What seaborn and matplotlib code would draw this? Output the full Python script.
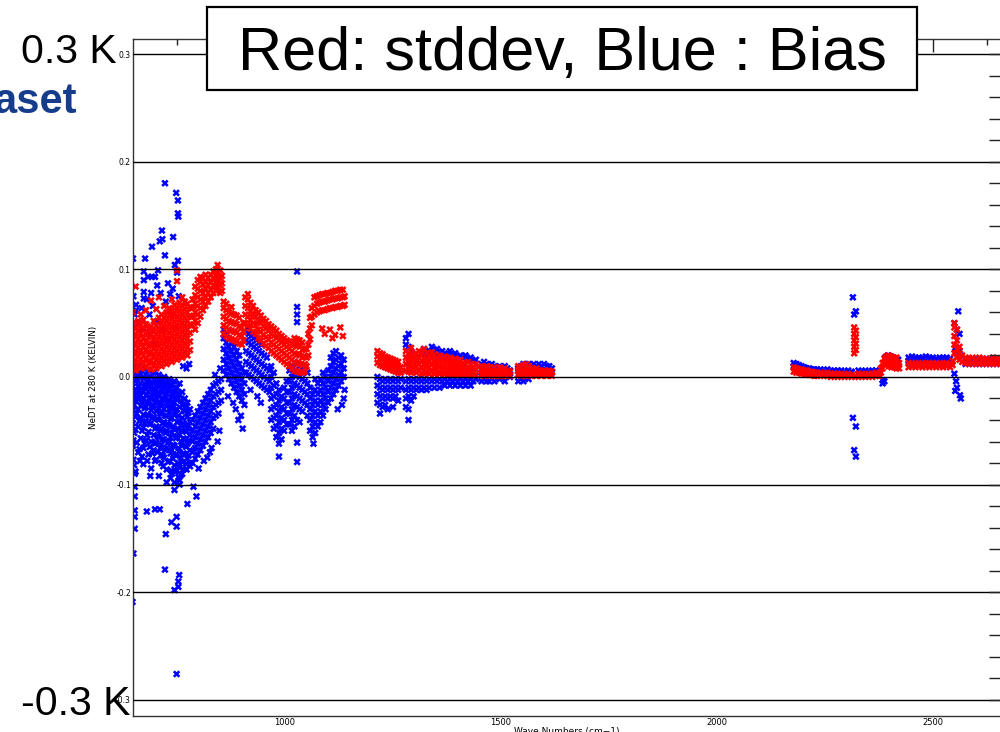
import matplotlib
matplotlib.use("Agg")
import matplotlib.pyplot as plt
from matplotlib.patches import Rectangle
from matplotlib.ticker import MultipleLocator
import pandas as pd
import seaborn as sns

# ---------------------------------------------------------------------------
# Channel values, grouped by spectral segment.
# Each entry: (wave number in cm-1, [NeDT values in K at that wave number])
# ---------------------------------------------------------------------------

# Red series: standard deviation
stddev_650_785 = [
    (648, [0.010, 0.018, 0.026, 0.034, 0.042, 0.050, 0.060]),
    (654, [0.006, 0.014, 0.022, 0.030, 0.038, 0.046, 0.084]),
    (660, [0.011, 0.019, 0.027, 0.035, 0.043, 0.052]),
    (666, [0.008, 0.016, 0.024, 0.032, 0.040, 0.048, 0.058]),
    (672, [0.012, 0.020, 0.028, 0.036, 0.044, 0.053]),
    (678, [0.009, 0.017, 0.025, 0.033, 0.041, 0.049, 0.062]),
    (684, [0.013, 0.021, 0.029, 0.037, 0.045]),
    (690, [0.007, 0.015, 0.023, 0.031, 0.039, 0.047, 0.071]),
    (696, [0.011, 0.019, 0.027, 0.035, 0.043, 0.052]),
    (702, [0.008, 0.016, 0.024, 0.032, 0.040, 0.048, 0.063]),
    (708, [0.013, 0.021, 0.029, 0.037, 0.045, 0.055, 0.074]),
    (714, [0.010, 0.018, 0.026, 0.034, 0.042, 0.050, 0.058]),
    (720, [0.015, 0.023, 0.031, 0.039, 0.047, 0.055, 0.066]),
    (726, [0.012, 0.020, 0.028, 0.036, 0.044, 0.052, 0.060]),
    (732, [0.017, 0.025, 0.033, 0.041, 0.049, 0.057, 0.064]),
    (738, [0.014, 0.022, 0.030, 0.038, 0.046, 0.054, 0.062, 0.072]),
    (744, [0.019, 0.027, 0.035, 0.043, 0.051, 0.059, 0.067]),
    (750, [0.016, 0.024, 0.032, 0.040, 0.048, 0.056, 0.064, 0.089, 0.099]),
    (756, [0.021, 0.029, 0.037, 0.045, 0.053, 0.061, 0.069]),
    (762, [0.018, 0.026, 0.034, 0.042, 0.050, 0.058, 0.066, 0.074]),
    (768, [0.023, 0.031, 0.039, 0.047, 0.055, 0.063, 0.070]),
    (774, [0.020, 0.028, 0.036, 0.044, 0.052, 0.060, 0.068]),
    (780, [0.025, 0.033, 0.041, 0.049, 0.057, 0.065]),
]
stddev_785_856 = [
    (786, [0.048, 0.056, 0.064, 0.072]),
    (792, [0.044, 0.052, 0.060, 0.068, 0.076, 0.084]),
    (798, [0.050, 0.058, 0.066, 0.074, 0.082, 0.090]),
    (804, [0.056, 0.064, 0.072, 0.080, 0.088, 0.093]),
    (810, [0.062, 0.070, 0.078, 0.086, 0.092]),
    (816, [0.066, 0.074, 0.082, 0.089, 0.095]),
    (822, [0.070, 0.078, 0.085, 0.092]),
    (828, [0.074, 0.081, 0.088, 0.095]),
    (834, [0.078, 0.085, 0.092, 0.098]),
    (840, [0.080, 0.087, 0.094, 0.100]),
    (844, [0.083, 0.090, 0.097, 0.104]),
    (850, [0.078, 0.085, 0.092, 0.099]),
    (854, [0.080, 0.087, 0.094]),
]
stddev_856_1140 = [
    (858, [0.040, 0.048, 0.056, 0.064, 0.070]),
    (864, [0.038, 0.046, 0.054, 0.062, 0.068]),
    (870, [0.036, 0.044, 0.052, 0.060]),
    (876, [0.035, 0.043, 0.051, 0.059, 0.065]),
    (882, [0.034, 0.042, 0.050, 0.058]),
    (888, [0.033, 0.041, 0.049, 0.057]),
    (894, [0.031, 0.039, 0.047, 0.055]),
    (900, [0.030, 0.038, 0.046]),
    (904, [0.034, 0.042, 0.050]),
    (908, [0.050, 0.058, 0.066, 0.074]),
    (914, [0.048, 0.056, 0.064, 0.072, 0.077]),
    (920, [0.045, 0.053, 0.061, 0.069]),
    (926, [0.042, 0.050, 0.058, 0.066]),
    (932, [0.040, 0.048, 0.056, 0.062]),
    (938, [0.036, 0.044, 0.052, 0.060]),
    (944, [0.034, 0.042, 0.050, 0.057]),
    (950, [0.031, 0.039, 0.047, 0.054]),
    (956, [0.029, 0.037, 0.045, 0.052]),
    (962, [0.027, 0.035, 0.043, 0.049]),
    (968, [0.024, 0.032, 0.040, 0.047]),
    (974, [0.022, 0.030, 0.038, 0.045]),
    (980, [0.020, 0.028, 0.036, 0.043]),
    (986, [0.018, 0.026, 0.034, 0.040]),
    (992, [0.016, 0.024, 0.032, 0.038]),
    (998, [0.014, 0.022, 0.030, 0.036]),
    (1004, [0.012, 0.020, 0.028, 0.034]),
    (1010, [0.010, 0.018, 0.026, 0.033]),
    (1016, [0.008, 0.016, 0.024, 0.031]),
    (1022, [0.006, 0.014, 0.022, 0.030, 0.036]),
    (1028, [0.005, 0.013, 0.021, 0.029, 0.035]),
    (1034, [0.004, 0.012, 0.020, 0.028, 0.034]),
    (1040, [0.004, 0.011, 0.018, 0.025, 0.032]),
    (1046, [0.005, 0.012, 0.019, 0.026]),
    (1050, [0.010, 0.018, 0.026]),
    (1054, [0.020, 0.030, 0.040]),
    (1058, [0.035, 0.045, 0.055]),
    (1062, [0.048, 0.056, 0.064]),
    (1068, [0.058, 0.066, 0.074]),
    (1074, [0.060, 0.068, 0.075]),
    (1080, [0.061, 0.069, 0.076]),
    (1086, [0.045, 0.062, 0.070, 0.077]),
    (1092, [0.040, 0.062, 0.070, 0.077]),
    (1098, [0.063, 0.071, 0.078]),
    (1104, [0.044, 0.064, 0.072, 0.078]),
    (1110, [0.036, 0.064, 0.072, 0.079]),
    (1116, [0.039, 0.065, 0.073, 0.080]),
    (1122, [0.065, 0.073, 0.080]),
    (1128, [0.046, 0.066, 0.074, 0.081]),
    (1134, [0.038, 0.066, 0.074, 0.081]),
    (1138, [0.067, 0.075]),
]
stddev_1210_1620 = [
    (1214, [0.013, 0.019, 0.024]), (1220, [0.011, 0.017, 0.022]),
    (1226, [0.010, 0.016, 0.021]), (1232, [0.009, 0.014, 0.019]),
    (1238, [0.008, 0.013, 0.018]), (1244, [0.007, 0.012, 0.017]),
    (1250, [0.006, 0.011, 0.016]), (1256, [0.005, 0.010, 0.015]),
    (1262, [0.004, 0.009, 0.014]), (1268, [0.004, 0.009]),
    (1280, [0.006, 0.012, 0.018, 0.024]), (1286, [0.005, 0.011, 0.017, 0.022]),
    (1292, [0.004, 0.010, 0.016, 0.021, 0.027]), (1298, [0.005, 0.011, 0.017]),
    (1304, [0.004, 0.010, 0.016, 0.022]), (1310, [0.006, 0.012, 0.018, 0.024]),
    (1316, [0.003, 0.009, 0.015, 0.021]), (1322, [0.005, 0.011, 0.017, 0.026]),
    (1328, [0.004, 0.010, 0.016, 0.022]), (1334, [0.003, 0.009, 0.015, 0.020]),
    (1340, [0.005, 0.011, 0.017, 0.023]), (1346, [0.003, 0.009, 0.015, 0.021]),
    (1352, [0.004, 0.010, 0.016]), (1358, [0.003, 0.009, 0.015, 0.020]),
    (1364, [0.004, 0.010, 0.016]), (1370, [0.003, 0.009, 0.015, 0.019]),
    (1376, [0.003, 0.008, 0.014]), (1382, [0.004, 0.009, 0.015, 0.018]),
    (1388, [0.003, 0.008, 0.013]), (1394, [0.002, 0.007, 0.012, 0.017]),
    (1400, [0.003, 0.008, 0.013]), (1406, [0.002, 0.007, 0.012, 0.016]),
    (1412, [0.003, 0.008, 0.013]), (1418, [0.002, 0.007, 0.012]),
    (1424, [0.003, 0.008, 0.014]), (1430, [0.002, 0.007, 0.012]),
    (1436, [0.003, 0.008]), (1442, [0.002, 0.007, 0.012]),
    (1455, [0.002, 0.006, 0.010]), (1461, [0.001, 0.005, 0.009]),
    (1467, [0.002, 0.006, 0.010]), (1473, [0.001, 0.005, 0.009]),
    (1479, [0.002, 0.006]), (1485, [0.001, 0.005, 0.009]),
    (1491, [0.001, 0.005]), (1497, [0.002, 0.006, 0.009]),
    (1503, [0.001, 0.005]), (1509, [0.001, 0.005, 0.008]),
    (1515, [0.002, 0.006]), (1521, [0.001, 0.005]),
    (1540, [0.002, 0.006, 0.010]), (1546, [0.001, 0.005, 0.009]),
    (1552, [0.002, 0.006, 0.011]), (1558, [0.001, 0.005, 0.012]),
    (1564, [0.002, 0.006, 0.010]), (1570, [0.001, 0.005, 0.008]),
    (1576, [0.002, 0.006]), (1582, [0.001, 0.005, 0.008]),
    (1588, [0.002, 0.006]), (1594, [0.001, 0.005]),
    (1600, [0.002, 0.006]), (1606, [0.001, 0.005]),
    (1612, [0.002, 0.006]), (1618, [0.001, 0.005]),
]
stddev_2175_2660 = [
    (2178, [0.005, 0.009]), (2184, [0.004, 0.008]), (2190, [0.004, 0.007]),
    (2196, [0.003, 0.007]), (2202, [0.003, 0.006]), (2208, [0.002, 0.006]),
    (2214, [0.002, 0.005]), (2220, [0.002, 0.005]), (2226, [0.001, 0.004]),
    (2232, [0.001, 0.004]), (2240, [0.002, 0.004]), (2248, [0.001, 0.003]),
    (2256, [0.001, 0.004]), (2264, [0.000, 0.003]), (2272, [0.001, 0.003]),
    (2280, [0.000, 0.003]), (2288, [0.001, 0.003]), (2296, [0.000, 0.002]),
    (2304, [0.001, 0.003]), (2312, [0.000, 0.002]),
    (2318, [0.022, 0.028, 0.034, 0.040, 0.046]),
    (2322, [0.001, 0.025, 0.031, 0.037, 0.043]),
    (2328, [0.000, 0.003]), (2336, [0.001, 0.003]), (2344, [0.000, 0.002]),
    (2352, [0.001, 0.003]), (2360, [0.000, 0.003]), (2368, [0.001, 0.004]),
    (2376, [0.001, 0.003]), (2380, [0.004, 0.008]), (2384, [0.008, 0.013]),
    (2388, [0.012, 0.017]), (2392, [0.014, 0.019]),
    (2398, [0.010, 0.016, 0.020]), (2404, [0.009, 0.015, 0.019]),
    (2410, [0.009, 0.014, 0.018]), (2416, [0.008, 0.013, 0.018]),
    (2422, [0.008, 0.013]),
    (2444, [0.009, 0.013]), (2452, [0.010, 0.013]), (2460, [0.009, 0.012]),
    (2468, [0.010, 0.013]), (2476, [0.009, 0.013]), (2484, [0.010, 0.012]),
    (2492, [0.009, 0.013]), (2500, [0.010, 0.013]), (2508, [0.009, 0.012]),
    (2516, [0.010, 0.013]), (2524, [0.009, 0.012]), (2532, [0.010, 0.013]),
    (2540, [0.009, 0.012]), (2546, [0.011, 0.015]),
    (2550, [0.022, 0.030, 0.038, 0.046, 0.050]),
    (2556, [0.018, 0.026, 0.034, 0.044]),
    (2562, [0.016, 0.022, 0.028]), (2568, [0.014, 0.020]),
    (2576, [0.013, 0.018]), (2584, [0.012, 0.017]), (2592, [0.013, 0.018]),
    (2600, [0.012, 0.016]), (2608, [0.013, 0.018]), (2616, [0.012, 0.017]),
    (2624, [0.013, 0.017]), (2632, [0.012, 0.016]), (2640, [0.013, 0.018]),
    (2648, [0.012, 0.017]), (2656, [0.013, 0.016]),
]

# Blue series: bias
bias_650_785 = [
    (648, [0.012, 0.003, -0.009, -0.017, -0.031, -0.043, -0.064]),
    (651, [0.007, -0.013, -0.026, -0.052, -0.082]),
    (654, [0.005, -0.004, -0.015, -0.022, -0.037, -0.049, -0.088]),
    (657, [-0.001, -0.019, -0.034, -0.061]),
    (660, [0.010, 0.001, -0.009, -0.021, -0.030, -0.046, -0.070]),
    (663, [0.004, -0.013, -0.041, -0.067]),
    (666, [0.003, -0.006, -0.017, -0.027, -0.039, -0.057]),
    (669, [-0.011, -0.023, -0.050, -0.074]),
    (672, [0.008, -0.001, -0.013, -0.021, -0.035, -0.047, -0.066, -0.081]),
    (675, [-0.006, -0.029, -0.043, -0.062]),
    (678, [0.002, -0.009, -0.017, -0.028, -0.041, -0.059]),
    (681, [-0.004, -0.023, -0.035, -0.054, -0.078]),
    (684, [0.006, -0.003, -0.014, -0.025, -0.036, -0.051, -0.072]),
    (687, [-0.008, -0.019, -0.044, -0.065]),
    (690, [0.000, -0.011, -0.020, -0.031, -0.043, -0.060, -0.085]),
    (693, [-0.005, -0.026, -0.038, -0.071]),
    (696, [0.004, -0.006, -0.016, -0.027, -0.037, -0.054, -0.068]),
    (699, [-0.012, -0.021, -0.048, -0.062]),
    (702, [-0.002, -0.012, -0.023, -0.032, -0.046, -0.061, -0.077]),
    (705, [-0.007, -0.017, -0.039, -0.055, -0.070]),
    (708, [0.002, -0.008, -0.018, -0.029, -0.040, -0.056, -0.092]),
    (711, [-0.003, -0.024, -0.034, -0.050, -0.066]),
    (714, [-0.004, -0.014, -0.025, -0.034, -0.048, -0.063, -0.080]),
    (717, [-0.009, -0.020, -0.043, -0.058, -0.073]),
    (720, [0.000, -0.010, -0.021, -0.030, -0.042, -0.058, -0.075]),
    (723, [-0.005, -0.016, -0.036, -0.052, -0.068]),
    (726, [-0.006, -0.016, -0.027, -0.036, -0.050, -0.066, -0.086]),
    (729, [-0.011, -0.022, -0.044, -0.061, -0.079]),
    (732, [-0.002, -0.012, -0.022, -0.033, -0.045, -0.060, -0.078]),
    (735, [-0.007, -0.028, -0.039, -0.056, -0.071, -0.094]),
    (738, [-0.008, -0.018, -0.029, -0.038, -0.052, -0.068, -0.090]),
    (741, [-0.013, -0.024, -0.046, -0.063, -0.076]),
    (744, [-0.004, -0.014, -0.024, -0.035, -0.048, -0.064, -0.082, -0.098]),
    (747, [-0.019, -0.031, -0.057, -0.073, -0.088]),
    (750, [-0.010, -0.021, -0.030, -0.042, -0.055, -0.072, -0.087]),
    (753, [-0.015, -0.036, -0.049, -0.066, -0.080, -0.093]),
    (756, [-0.006, -0.017, -0.028, -0.041, -0.054, -0.070, -0.084, -0.100]),
    (759, [-0.022, -0.045, -0.060, -0.075, -0.091]),
    (762, [-0.014, -0.026, -0.038, -0.050, -0.064, -0.079]),
    (765, [-0.031, -0.043, -0.057, -0.071, -0.086]),
    (768, [-0.020, -0.032, -0.045, -0.058, -0.072]),
    (771, [-0.027, -0.051, -0.065, -0.081]),
    (774, [-0.024, -0.037, -0.048, -0.062, -0.076]),
    (777, [-0.033, -0.045, -0.059, -0.073]),
    (780, [-0.030, -0.042, -0.054, -0.068, -0.083]),
]
bias_785_1140 = [
    (786, [-0.040, -0.050, -0.060, -0.070, -0.080]),
    (792, [-0.036, -0.046, -0.056, -0.066, -0.076]),
    (798, [-0.032, -0.042, -0.052, -0.062, -0.072]),
    (804, [-0.028, -0.038, -0.048, -0.058, -0.068]),
    (810, [-0.024, -0.034, -0.044, -0.054, -0.064]),
    (816, [-0.020, -0.030, -0.040, -0.050, -0.060]),
    (822, [-0.016, -0.026, -0.036, -0.046, -0.056]),
    (828, [-0.012, -0.022, -0.032, -0.042, -0.052]),
    (834, [-0.008, -0.018, -0.028, -0.038, -0.048]),
    (840, [-0.006, -0.016, -0.026, -0.036]),
    (846, [-0.004, -0.014, -0.024, -0.034]),
    (852, [-0.002, -0.012, -0.022]),
    (858, [0.006, 0.016, 0.026, 0.036, 0.044]),
    (864, [0.002, 0.012, 0.022, 0.032, 0.040]),
    (870, [-0.002, 0.008, 0.018, 0.028, 0.036]),
    (876, [-0.006, 0.004, 0.014, 0.024, 0.032]),
    (882, [-0.010, 0.000, 0.010, 0.020, 0.028]),
    (888, [-0.014, -0.004, 0.006, 0.016, 0.024]),
    (894, [-0.018, -0.008, 0.002, 0.012, 0.020]),
    (900, [-0.022, -0.012, -0.002, 0.008]),
    (906, [-0.026, -0.016, -0.006, 0.004]),
    (910, [0.004, 0.014, 0.024, 0.034]),
    (916, [0.002, 0.012, 0.022, 0.032, 0.040]),
    (922, [0.000, 0.010, 0.020, 0.030, 0.038]),
    (928, [-0.002, 0.008, 0.018, 0.028, 0.036]),
    (934, [-0.004, 0.006, 0.016, 0.026, 0.034]),
    (940, [-0.006, 0.004, 0.014, 0.024, 0.032]),
    (946, [-0.008, 0.002, 0.012, 0.022, 0.030]),
    (952, [-0.010, 0.000, 0.010, 0.020]),
    (958, [-0.012, -0.002, 0.008, 0.018]),
    (964, [-0.014, -0.004, 0.006]),
    (968, [-0.040, -0.030, -0.020, -0.010, 0.000, 0.010]),
    (974, [-0.048, -0.038, -0.028, -0.018, -0.008, 0.004]),
    (980, [-0.056, -0.046, -0.036, -0.026, -0.016, -0.006]),
    (986, [-0.074, -0.062, -0.052, -0.042, -0.032, -0.022, -0.012]),
    (992, [-0.058, -0.048, -0.038, -0.028, -0.018]),
    (998, [-0.050, -0.040, -0.030, -0.020, -0.010]),
    (1004, [-0.044, -0.034, -0.024, -0.014, -0.004]),
    (1010, [0.006, -0.004, -0.014, -0.024, -0.034, -0.044]),
    (1016, [0.010, 0.000, -0.010, -0.020, -0.030, -0.040, -0.050]),
    (1022, [0.014, 0.004, -0.006, -0.016, -0.026, -0.036, -0.046]),
    (1028, [0.098, 0.065, 0.058, 0.051, 0.012, 0.002, -0.008, -0.018,
            -0.028, -0.040, -0.061, -0.079]),
    (1034, [0.010, 0.000, -0.010, -0.020, -0.030, -0.042]),
    (1040, [0.008, -0.002, -0.012, -0.022, -0.032]),
    (1046, [0.006, -0.004, -0.014, -0.024]),
    (1052, [0.004, -0.006, -0.016, -0.026, -0.036]),
    (1058, [-0.050, -0.040, -0.030, -0.020, -0.010]),
    (1064, [-0.056, -0.046, -0.036, -0.026, -0.016]),
    (1070, [-0.052, -0.042, -0.032, -0.022, -0.012, -0.002]),
    (1076, [-0.046, -0.036, -0.026, -0.016, -0.006]),
    (1082, [-0.042, -0.032, -0.022, -0.012, -0.002]),
    (1088, [-0.036, -0.026, -0.016, -0.006, 0.004]),
    (1094, [-0.030, -0.020, -0.010, 0.000]),
    (1100, [-0.024, -0.014, -0.004, 0.006]),
    (1106, [-0.020, -0.010, 0.000, 0.010, 0.018]),
    (1112, [-0.016, -0.006, 0.004, 0.014, 0.022]),
    (1118, [-0.012, -0.002, 0.008, 0.016, 0.024]),
    (1124, [-0.008, 0.002, 0.010, 0.018]),
    (1130, [-0.004, 0.004, 0.012, 0.020]),
    (1136, [-0.020, 0.000, 0.008, 0.016]),
]
bias_1210_1620 = [
    (1214, [0.000, -0.008, -0.016, -0.024]),
    (1220, [-0.002, -0.010, -0.018, -0.026, -0.034]),
    (1226, [-0.004, -0.012, -0.020, -0.028]),
    (1232, [-0.002, -0.010, -0.018, -0.026]),
    (1238, [-0.004, -0.012, -0.020, -0.030]),
    (1244, [-0.002, -0.010, -0.018]),
    (1250, [-0.004, -0.012, -0.020, -0.028]),
    (1256, [-0.002, -0.010, -0.018]),
    (1262, [-0.004, -0.012, -0.022]),
    (1268, [-0.002, -0.010]),
    (1280, [0.030, 0.036, -0.004, -0.012, -0.020, -0.028]),
    (1286, [0.028, 0.040, -0.002, -0.010, -0.018, -0.030, -0.040]),
    (1292, [0.024, -0.004, -0.012, -0.022]),
    (1298, [-0.002, -0.010, -0.018]), (1304, [0.016, -0.004, -0.012]),
    (1310, [-0.002, -0.010]), (1316, [0.022, -0.004, -0.012]),
    (1322, [0.026, -0.002, -0.010]), (1328, [0.020, -0.004, -0.012]),
    (1334, [0.024, -0.002, -0.010]), (1340, [0.028, -0.004]),
    (1346, [0.022, -0.002, -0.010]), (1352, [0.026, -0.004]),
    (1358, [0.020, -0.002, -0.010]), (1364, [0.024, -0.004]),
    (1370, [0.022, -0.002, -0.008]), (1376, [0.018, -0.004]),
    (1382, [0.024, -0.002, -0.008]), (1388, [0.020, -0.004]),
    (1394, [0.022, -0.002, -0.008]), (1400, [0.018, -0.004]),
    (1406, [0.020, -0.002, -0.008]), (1412, [0.018, -0.004]),
    (1418, [0.020, -0.002, -0.008]), (1424, [0.016, -0.004]),
    (1430, [0.018, -0.002, -0.008]), (1436, [0.014, -0.004]),
    (1442, [0.016, -0.002]),
    (1455, [0.012, 0.004, -0.004]), (1461, [0.014, 0.006, -0.002]),
    (1467, [0.012, 0.004, -0.004]), (1473, [0.010, 0.002, -0.004]),
    (1479, [0.012, 0.004]), (1485, [0.010, 0.002, -0.004]),
    (1491, [0.008, 0.002]), (1497, [0.010, 0.004, -0.002]),
    (1503, [0.008, 0.002]), (1509, [0.010, 0.002, -0.004]),
    (1515, [0.008, 0.002]), (1521, [0.006, 0.000]),
    (1540, [0.008, 0.002, -0.004]), (1546, [0.010, 0.004, -0.002]),
    (1552, [0.012, 0.004, -0.004]), (1558, [0.010, 0.002]),
    (1564, [0.012, 0.004, -0.002]), (1570, [0.010, 0.004]),
    (1576, [0.012, 0.006]), (1582, [0.010, 0.004]),
    (1588, [0.012, 0.006]), (1594, [0.010, 0.004]),
    (1600, [0.012, 0.006]), (1606, [0.010, 0.004]),
    (1612, [0.010, 0.006]), (1618, [0.008, 0.004]),
]
bias_2175_2660 = [
    (2178, [0.010, 0.013]), (2184, [0.009, 0.012]), (2190, [0.008, 0.011]),
    (2196, [0.007, 0.010]), (2202, [0.006, 0.009]), (2208, [0.006, 0.008]),
    (2214, [0.005, 0.008]), (2220, [0.005, 0.007]), (2226, [0.004, 0.007]),
    (2232, [0.004, 0.007]), (2240, [0.005, 0.007]), (2248, [0.004, 0.006]),
    (2256, [0.004, 0.007]), (2264, [0.004, 0.006]), (2272, [0.003, 0.006]),
    (2280, [0.004, 0.006]), (2288, [0.003, 0.006]), (2296, [0.004, 0.005]),
    (2304, [0.003, 0.006]), (2312, [0.004, 0.005]),
    (2315, [0.074, -0.038]), (2318, [0.058, -0.068]),
    (2322, [0.061, -0.046, -0.074]),
    (2328, [0.003, 0.006]), (2336, [0.004, 0.005]), (2344, [0.003, 0.006]),
    (2352, [0.004, 0.005]), (2360, [0.003, 0.006]), (2368, [0.004, 0.006]),
    (2376, [0.003, 0.005]), (2384, [-0.003, -0.006]), (2388, [-0.004]),
    (2390, [0.012, 0.018]), (2396, [0.014, 0.020]), (2402, [0.013, 0.019]),
    (2408, [0.012, 0.018]), (2414, [0.012, 0.017]), (2420, [0.011, 0.016]),
    (2444, [0.015, 0.018]), (2452, [0.015, 0.019]), (2460, [0.014, 0.018]),
    (2468, [0.015, 0.018]), (2476, [0.014, 0.018]), (2484, [0.015, 0.019]),
    (2492, [0.014, 0.018]), (2500, [0.015, 0.018]), (2508, [0.014, 0.017]),
    (2516, [0.015, 0.018]), (2524, [0.014, 0.018]), (2532, [0.015, 0.018]),
    (2540, [0.014, 0.017]),
    (2550, [0.050, 0.003]), (2552, [0.027, -0.013]),
    (2554, [-0.004]), (2556, [0.044, -0.010]), (2559, [0.061]),
    (2562, [0.040, 0.024]), (2563, [-0.017]), (2565, [-0.020]),
    (2576, [0.012, 0.016]), (2584, [0.013, 0.017]), (2592, [0.012, 0.016]),
    (2600, [0.013, 0.017]), (2608, [0.012, 0.016]), (2616, [0.013, 0.017]),
    (2624, [0.012, 0.016]), (2632, [0.013, 0.017]), (2640, [0.012, 0.016]),
    (2648, [0.013, 0.017]), (2656, [0.012, 0.016]),
]

# Isolated bias channels around the 650-860 cm-1 region
bias_scatter = [
    (648, 0.110), (676, 0.110), (673, 0.098), (673, 0.090), (683, 0.093),
    (692, 0.093), (699, 0.093), (706, 0.099), (673, 0.079), (673, 0.073),
    (704, 0.085), (729, 0.087), (750, 0.097), (655, 0.067), (655, 0.062),
    (690, 0.078), (734, 0.077), (745, 0.104), (752, 0.108),
    (722, 0.180), (748, 0.171), (752, 0.164), (752, 0.152), (753, 0.149),
    (715, 0.136), (692, 0.121), (710, 0.126), (716, 0.128), (741, 0.130),
    (722, 0.113),
    (649, 0.075), (652, 0.058), (660, 0.050), (668, 0.064), (672, 0.045),
    (680, 0.072), (686, 0.058), (688, 0.040), (694, 0.066), (700, 0.030),
    (704, 0.052), (712, 0.078), (716, 0.044), (724, 0.070), (728, 0.035),
    (736, 0.058), (740, 0.082), (746, 0.046), (754, 0.075), (764, 0.010),
    (772, 0.008), (778, 0.012),
    (652, -0.102), (652, -0.111), (652, -0.124), (652, -0.130), (652, -0.141),
    (649, -0.164), (647, -0.209), (680, -0.125), (699, -0.123), (710, -0.123),
    (737, -0.135), (749, -0.130), (749, -0.139), (724, -0.146), (774, -0.118),
    (788, -0.102), (795, -0.111), (722, -0.179), (755, -0.184), (753, -0.190),
    (753, -0.195), (744, -0.198), (749, -0.276),
    (649, -0.059), (649, -0.077), (664, -0.078), (688, -0.092), (699, -0.078),
    (714, -0.072), (718, -0.083), (726, -0.098), (737, -0.087), (744, -0.105),
    (756, -0.096), (762, -0.090), (772, -0.086), (780, -0.080), (652, -0.090),
    (800, -0.085), (812, -0.078), (826, -0.070), (844, -0.060), (848, -0.050),
    (838, 0.002), (850, 0.008), (830, -0.066), (820, -0.075),
    (886, -0.030), (892, -0.040), (898, -0.036), (902, -0.048), (880, -0.024),
    (868, -0.018), (920, -0.012), (936, -0.018), (944, -0.024), (914, 0.046),
    (1066, -0.062), (1122, -0.030), (1132, -0.026), (1138, -0.012),
]

# Axis labels and ticks
x_label = "Wave Numbers (cm\u22121)"
y_label = "NeDT at 280 K (KELVIN)"
x_ticks = [1000, 1500, 2000, 2500]
x_tick_labels = ["1000", "1500", "2000", "2500"]
y_ticks = [-0.3, -0.2, -0.1, 0.0, 0.1, 0.2, 0.3]
y_tick_labels = ["-0.3", "-0.2", "-0.1", "0.0", "0.1", "0.2", "0.3"]
legend_text = "Red: stddev, Blue : Bias"


def columns_to_rows(columns, series):
    return [(x, y, series) for x, ys in columns for y in ys]


rows = []
for block in (bias_650_785, bias_785_1140, bias_1210_1620, bias_2175_2660):
    rows += columns_to_rows(block, "bias")
rows += [(x, y, "bias") for x, y in bias_scatter]
for block in (stddev_650_785, stddev_785_856, stddev_856_1140,
              stddev_1210_1620, stddev_2175_2660):
    rows += columns_to_rows(block, "stddev")
frame = pd.DataFrame(rows, columns=["wavenumber", "nedt", "series"])

sns.set_theme(style="white")
plt.rcParams["font.family"] = ["DejaVu Sans"]
plt.rcParams["text.color"] = "black"
plt.rcParams["axes.labelcolor"] = "black"
plt.rcParams["xtick.color"] = "black"
plt.rcParams["ytick.color"] = "black"

fig = plt.figure(figsize=(10, 7.32), dpi=100)
ax = fig.add_axes([0.133, 1 - 716 / 732, 0.868, 677 / 732])

sns.scatterplot(data=frame, x="wavenumber", y="nedt", hue="series",
                palette={"bias": "#0000ff", "stddev": "#ff0000"},
                marker="X", s=28, linewidth=0, legend=False, ax=ax)

ax.set_xlim(648, 2658)
ax.set_ylim(-0.315, 0.314)
ax.set_axisbelow(False)
ax.grid(axis="y", which="major", color="black", linewidth=1.0)
ax.grid(axis="x", visible=False)

ax.set_xticks(x_ticks)
ax.set_xticklabels(x_tick_labels)
ax.set_yticks(y_ticks)
ax.set_yticklabels(y_tick_labels)
ax.xaxis.set_minor_locator(MultipleLocator(125))
ax.yaxis.set_minor_locator(MultipleLocator(0.02))
ax.tick_params(axis="both", which="both", direction="in", top=True,
               right=True, color="#222222", width=1.0)
ax.tick_params(axis="x", which="major", length=9, labelsize=6, pad=1.5)
ax.tick_params(axis="x", which="minor", length=4.5)
ax.tick_params(axis="y", which="major", length=9, labelsize=5.5, pad=1.5)
ax.tick_params(axis="y", which="minor", length=9)

for spine in ax.spines.values():
    spine.set_color("#333333")
    spine.set_linewidth(1.0)

ax.set_xlabel(x_label, fontsize=6.5, labelpad=0)
ax.set_ylabel(y_label, fontsize=6.3)
ax.yaxis.set_label_coords(-0.040, 0.5)

# Slide annotations laid over the plot
big_font = ["Liberation Sans", "DejaVu Sans"]
fig.text(0.021, 1 - 63 / 732, "0.3 K", fontsize=29.5, family=big_font,
         color="black", va="baseline", ha="left")
fig.text(0.021, 1 - 715 / 732, "-0.3 K", fontsize=29.5, family=big_font,
         color="black", va="baseline", ha="left")
fig.text(0.077, 1 - 113 / 732, "aset", fontsize=30, family=big_font,
         fontweight="bold", color="#163d8c", va="baseline", ha="right")

fig.patches.append(Rectangle((0.207, 1 - 90 / 732), 0.710, 83 / 732,
                             transform=fig.transFigure, facecolor="white",
                             edgecolor="black", linewidth=1.6, zorder=3))
fig.text(0.562, 1 - 70 / 732, legend_text, fontsize=44, family=big_font,
         color="black", va="baseline", ha="center", zorder=4)

fig.savefig("out.png", dpi=100)
